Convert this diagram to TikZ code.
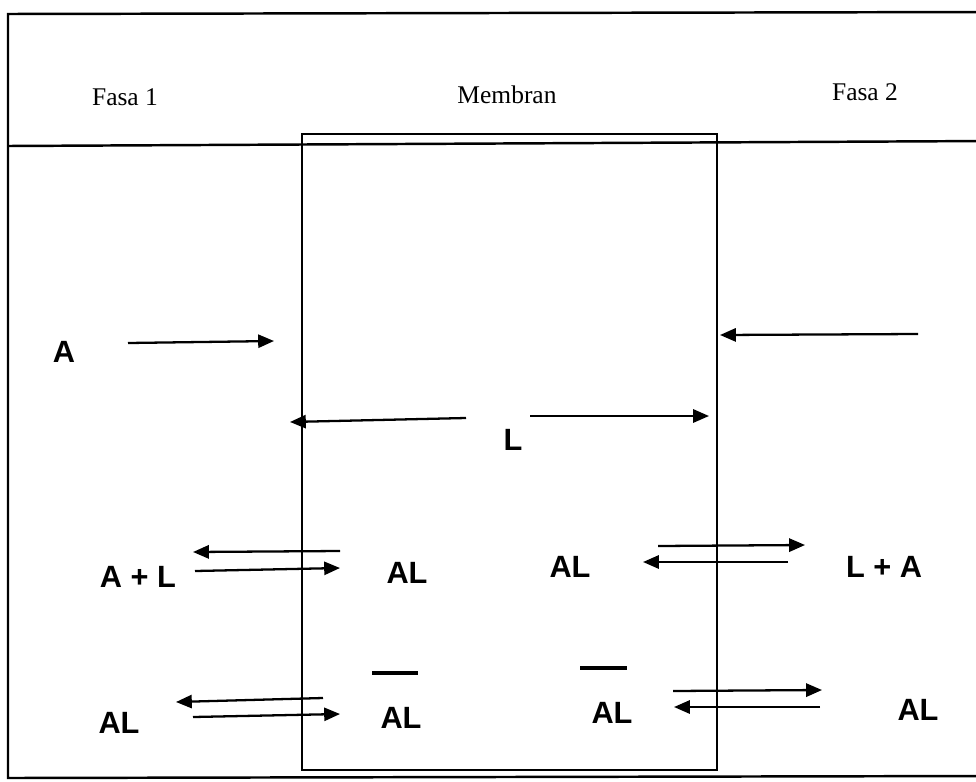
\documentclass[tikz,border=0pt]{standalone}
\usepackage{fontspec}
\setmainfont{Liberation Serif}
\newfontfamily\labfont{Liberation Sans}
\usetikzlibrary{arrows.meta,positioning,calc}

\begin{document}
\begin{tikzpicture}[
  x=0.02cm, y=-0.02cm,
  frame/.style={line width=1.4pt},
  wall/.style={line width=1pt},
  head/.style={font=\fontsize{14.5}{16}\selectfont, inner sep=0pt},
  spec/.style={font=\labfont\bfseries\fontsize{17.5}{19}\selectfont, inner sep=0pt},
  flow/.style={line width=1.3pt, -{Triangle[length=9pt,width=7.5pt]}},
  bar/.style={line width=2.8pt}
]
\useasboundingbox (0,0) rectangle (976,781);
% outer frame and header
\draw[frame] (990,12) -- (8,14) -- (8,778) -- (990,776);
\draw[frame] (8,146) -- (990,141);
% membrane
\draw[wall] (302,134) rectangle (717,770);
% headings
\node[head] (fasa1) at (125,97) {Fasa 1};
\node[head] (membran) at (507,95) {Membran};
\node[head] (fasa2) at (865,92) {Fasa 2};
% species
\node[spec] (a) at (64,352) {A};
\node[spec] (l) at (513,440) {L};
\node[spec] (al1) at (138,577) {A + L};
\node[spec] (alm1) at (407,573) {AL};
\node[spec] (alm2) at (570,567) {AL};
\node[spec] (la) at (884,567) {L + A};
\node[spec] (al3) at (119,723) {AL};
\node[spec] (alm3) at (401,718) {AL};
\node[spec] (alm4) at (612,713) {AL};
\node[spec] (al4) at (918,710) {AL};
% bars over AL
\coordinate (b1s) at (372,673); \coordinate (b1e) at (418,673);
\coordinate (b2s) at (580,668); \coordinate (b2e) at (627,668);
\draw[bar] (b1s) -- (b1e);
\draw[bar] (b2s) -- (b2e);
% transport of A and L
\coordinate (a1) at (128,343); \coordinate (a2) at (274,341);
\coordinate (r1) at (918,334); \coordinate (r2) at (720,335);
\coordinate (l1) at (466,418); \coordinate (l2) at (290,422);
\coordinate (l3) at (530,416); \coordinate (l4) at (709,416);
\draw[flow] (a1) -- (a2);
\draw[flow] (r1) -- (r2);
\draw[flow] (l1) -- (l2);
\draw[flow] (l3) -- (l4);
% equilibria
\coordinate (p1) at (340,551); \coordinate (p2) at (193,552);
\coordinate (p3) at (195,571); \coordinate (p4) at (340,568);
\coordinate (q1) at (658,546); \coordinate (q2) at (805,545);
\coordinate (q3) at (788,562); \coordinate (q4) at (643,562);
\coordinate (s1) at (323,698); \coordinate (s2) at (176,702);
\coordinate (s3) at (193,717); \coordinate (s4) at (340,714);
\coordinate (t1) at (673,691); \coordinate (t2) at (822,690);
\coordinate (t3) at (820,707); \coordinate (t4) at (674,707);
\foreach \u/\v in {p1/p2,p3/p4,q1/q2,q3/q4,s1/s2,s3/s4,t1/t2,t3/t4}
  \draw[flow] (\u) -- (\v);
\end{tikzpicture}
\end{document}
